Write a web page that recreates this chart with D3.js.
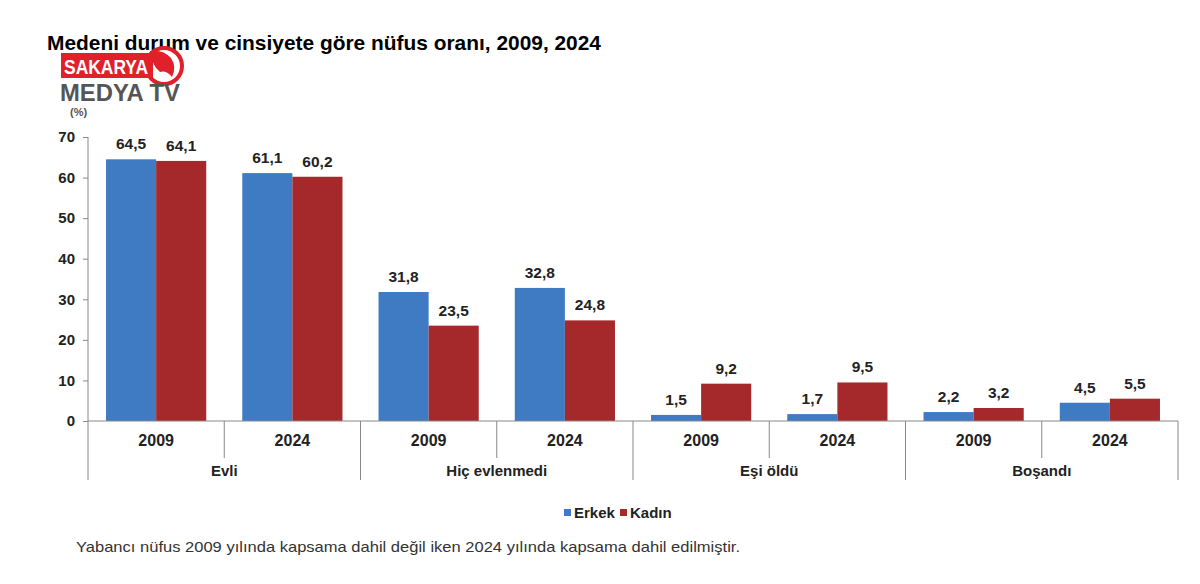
<!DOCTYPE html>
<html>
<head>
<meta charset="utf-8">
<script src="https://cdn.jsdelivr.net/npm/d3@7"></script>
<style>
  body { margin: 0; background: #fff; }
  text { font-family: "Liberation Sans", Arial, sans-serif; }
</style>
</head>
<body>
<script>
const groups = ["Evli", "Hiç evlenmedi", "Eşi öldü", "Boşandı"];
const years = ["2009", "2024"];
const series = ["Erkek", "Kadın"];
const erkek = [64.5, 61.1, 31.8, 32.8, 1.5, 1.7, 2.2, 4.5];
const kadin = [64.1, 60.2, 23.5, 24.8, 9.2, 9.5, 3.2, 5.5];
const yTicks = [0, 10, 20, 30, 40, 50, 60, 70];

const W = 1200, H = 584;
const plot = { left: 88, right: 1178, top: 137, bottom: 421 };
const colors = { Erkek: "#3f7bc2", Kadın: "#a5282a" };

const svg = d3.select("body").append("svg").attr("width", W).attr("height", H);

// title
svg.append("text")
  .attr("x", 47).attr("y", 50)
  .attr("font-size", 21).attr("font-weight", "bold").attr("fill", "#000")
  .attr("textLength", 554).attr("lengthAdjust", "spacingAndGlyphs")
  .text("Medeni durum ve cinsiyete göre nüfus oranı, 2009, 2024");

// logo
const logo = svg.append("g");
logo.append("rect").attr("x", 61).attr("y", 53).attr("width", 92).attr("height", 25).attr("fill", "#e0202a");
logo.append("circle").attr("cx", 164).attr("cy", 66).attr("r", 18).attr("fill", "none")
  .attr("stroke", "#e0202a").attr("stroke-width", 4);
logo.append("path").attr("d", "M150,51 Q163,49 171,58 Q177,67 172,77 Q166,70 160,72 Q152,66 150,51 Z").attr("fill", "#e0202a");
logo.append("text").attr("x", 64).attr("y", 74).attr("font-size", 20).attr("font-weight", "bold")
  .attr("fill", "#fff").attr("textLength", 84).attr("lengthAdjust", "spacingAndGlyphs").text("SAKARYA");
logo.append("text").attr("x", 60).attr("y", 101).attr("font-size", 24).attr("font-weight", "bold")
  .attr("fill", "#555").attr("textLength", 120).attr("lengthAdjust", "spacingAndGlyphs").text("MEDYA TV");
svg.append("text").attr("x", 70).attr("y", 116).attr("font-size", 11).attr("font-weight", "bold")
  .attr("fill", "#555").text("(%)");

const y = d3.scaleLinear().domain([0, 70]).range([plot.bottom, plot.top]);
const x0 = d3.scaleBand().domain(groups).range([plot.left, plot.right]);
const x1 = d3.scaleBand().domain(years).range([0, x0.bandwidth()]);
const x2 = d3.scaleBand().domain(series).range([0, x1.bandwidth()]).paddingInner(0).paddingOuter(0.36);

// y axis
const yAxis = svg.append("g").attr("transform", `translate(${plot.left},0)`)
  .call(d3.axisLeft(y).tickValues(yTicks).tickSize(5).tickPadding(8));
yAxis.select(".domain").remove();
yAxis.selectAll("line").attr("stroke", "#888");
yAxis.selectAll("text").attr("font-size", 15).attr("font-weight", "bold").attr("fill", "#222");
svg.append("line").attr("x1", plot.left).attr("x2", plot.left).attr("y1", plot.top).attr("y2", 480).attr("stroke", "#888");

// bars
const rows = [];
groups.forEach((g, gi) => years.forEach((yr, yi) => {
  const i = gi * 2 + yi;
  rows.push({ g, yr, key: "Erkek", v: erkek[i] });
  rows.push({ g, yr, key: "Kadın", v: kadin[i] });
}));
const bx = (d) => x0(d.g) + x1(d.yr) + x2(d.key);

svg.append("g").selectAll("rect").data(rows).join("rect")
  .attr("x", bx).attr("width", x2.bandwidth())
  .attr("y", (d) => y(d.v)).attr("height", (d) => y(0) - y(d.v))
  .attr("fill", (d) => colors[d.key]);

svg.append("g").selectAll("text").data(rows).join("text")
  .attr("x", (d) => bx(d) + x2.bandwidth() / 2)
  .attr("y", (d) => y(d.v) - 10)
  .attr("text-anchor", "middle").attr("font-size", 15.5).attr("font-weight", "bold").attr("fill", "#222")
  .text((d) => d.v.toFixed(1).replace(".", ","));

// x axis base and separators
svg.append("line").attr("x1", plot.left).attr("x2", plot.right).attr("y1", y(0)).attr("y2", y(0)).attr("stroke", "#888");
const axisG = svg.append("g");
groups.forEach((g) => {
  axisG.append("line").attr("x1", x0(g) + x1("2024")).attr("x2", x0(g) + x1("2024"))
    .attr("y1", y(0)).attr("y2", 458).attr("stroke", "#888");
  axisG.append("line").attr("x1", x0(g) + x0.bandwidth()).attr("x2", x0(g) + x0.bandwidth())
    .attr("y1", y(0)).attr("y2", 480).attr("stroke", "#888");
  years.forEach((yr) => {
    axisG.append("text").attr("x", x0(g) + x1(yr) + x1.bandwidth() / 2).attr("y", 446)
      .attr("text-anchor", "middle").attr("font-size", 16).attr("font-weight", "bold").attr("fill", "#222").text(yr);
  });
  axisG.append("text").attr("x", x0(g) + x0.bandwidth() / 2).attr("y", 476)
    .attr("text-anchor", "middle").attr("font-size", 15).attr("font-weight", "bold").attr("fill", "#222").text(g);
});

// legend
const legend = svg.append("g").attr("transform", "translate(564,513)");
series.forEach((s, i) => {
  const lg = legend.append("g").attr("transform", `translate(${i * 56},0)`);
  lg.append("rect").attr("x", 0).attr("y", -4).attr("width", 7).attr("height", 7).attr("fill", colors[s]);
  lg.append("text").attr("x", 10).attr("y", 5).attr("font-size", 15).attr("font-weight", "bold").attr("fill", "#222").text(s);
});

// footnote
svg.append("text").attr("x", 76).attr("y", 552).attr("font-size", 15).attr("fill", "#333")
  .attr("textLength", 664).attr("lengthAdjust", "spacingAndGlyphs")
  .text("Yabancı nüfus 2009 yılında kapsama dahil değil iken 2024 yılında kapsama dahil edilmiştir.");
</script>
</body>
</html>
